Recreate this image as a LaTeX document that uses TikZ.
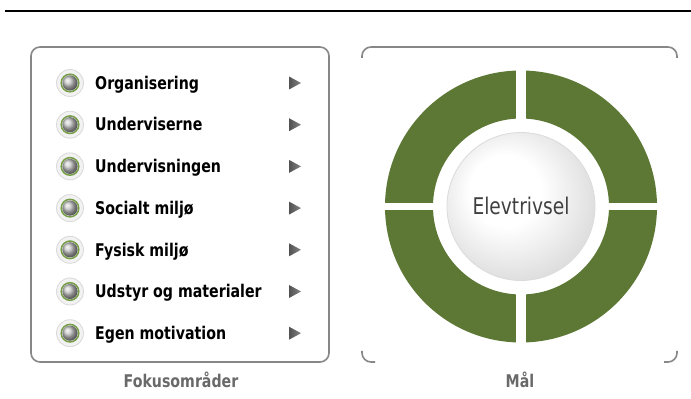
\documentclass[tikz,border=0pt]{standalone}
\usepackage{fontspec}
\setmainfont{DejaVu Sans}[FakeStretch=0.81]
\definecolor{ringgreen}{RGB}{92,120,52}
\definecolor{boxgray}{RGB}{135,135,135}
\definecolor{labgray}{RGB}{105,105,105}
\definecolor{bulgreen}{RGB}{118,158,70}
\definecolor{centertext}{RGB}{64,64,64}
\pgfdeclareradialshading{sphereshade}{\pgfpoint{-7bp}{7bp}}{color(0bp)=(white); color(12bp)=(white); color(28bp)=(gray!25); color(50bp)=(gray!25)}
\tikzset{
  frame/.style={draw=boxgray, line width=1.6pt, rounded corners=9pt},
  itemtext/.style={anchor=base west, inner sep=0pt, font=\fontsize{17.5}{18}\selectfont\bfseries, text=black},
  bulletbase/.style={circle, inner sep=0pt, minimum size=27pt, fill=gray!10, draw=gray!30, line width=0.8pt},
  caption/.style={inner sep=0pt, font=\fontsize{17.5}{18}\selectfont\bfseries, text=labgray},
}
\begin{document}
\begin{tikzpicture}[x=1pt,y=1pt]
\useasboundingbox (0,0) rectangle (691,399);
\fill[white] (0,0) rectangle (691,399);
% top rule
\coordinate (ruleL) at (5,388);
\coordinate (ruleR) at (691,388);
\draw[line width=2.2pt] (ruleL) -- (ruleR);
% left frame
\node[frame, minimum width=298pt, minimum height=315pt, inner sep=0pt] (focusbox) at (180,194.5) {};
% right brackets
\draw[frame] (362,341) -- (362,352) -- (677,352) -- (677,341);
\draw[frame] (362,48) -- (362,37) -- (375,37);
\draw[frame] (664,37) -- (677,37) -- (677,48);
% ring
\fill[ringgreen, even odd rule] (521,192.5) circle (136) (521,192.5) circle (88);
\fill[white] (516,50) rectangle (526,335);
\fill[white] (380,189) rectangle (662,196.3);
% center sphere
\node[circle, minimum size=148pt, inner sep=0pt, shading=sphereshade, draw=gray!28, line width=0.8pt] (goal) at (521,192.5) {};
\node[inner sep=0pt, font=\fontsize{23}{24}\selectfont, text=centertext, anchor=base] (goaltext) at (521,184.5) {Elevtrivsel};
% list
\foreach \t [count=\i from 0] in {Organisering, Underviserne, Undervisningen, Socialt miljø, Fysisk miljø, Udstyr og materialer, Egen motivation}{
  \pgfmathsetmacro{\yy}{316-41.7*\i}
  \node[bulletbase] (b\i) at (70,\yy) {};
  \draw[bulgreen, line width=1.5pt] (b\i.center) circle (8.8);
  \shade[ball color=gray!45] (b\i.center) circle (7.6);
  \node[itemtext] (t\i) at (95,\yy-6.3) {\t};
  \shade[left color=black!68, right color=black!48] (289,\yy+6.5) -- (301,\yy) -- (289,\yy-6.5) -- cycle;
}
% captions
\node[caption] (focuslabel) at (181,19) {Fokusområder};
\node[caption] (goallabel) at (520,19) {Mål};
\end{tikzpicture}
\end{document}
